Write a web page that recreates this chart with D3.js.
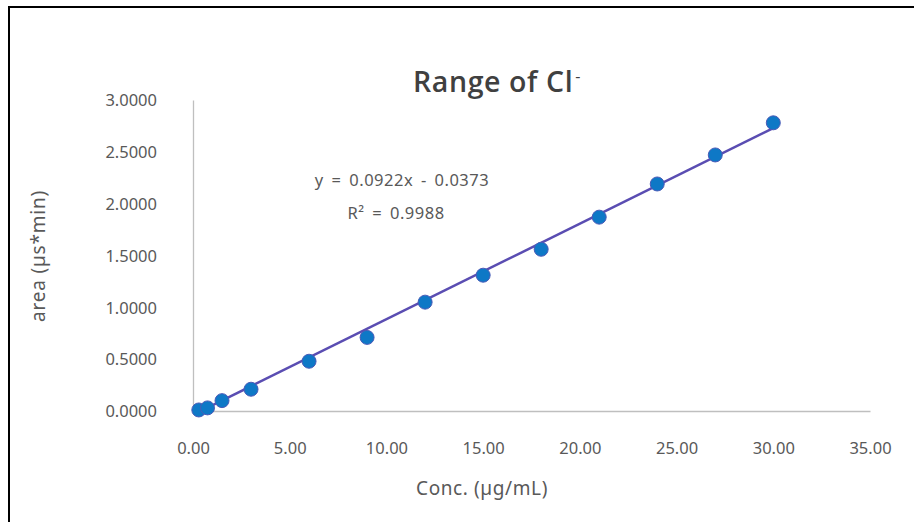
<!DOCTYPE html>
<html>
<head>
<meta charset="utf-8">
<script src="https://cdn.jsdelivr.net/npm/d3@7"></script>
<style>
  html, body { margin: 0; padding: 0; background: #fff; }
  svg { display: block; }
  text { font-family: "Noto Sans", "Open Sans", sans-serif; }
</style>
</head>
<body>
<svg id="chart" width="914" height="522"></svg>
<script>
// Calibration standards for chloride
const concentrations = [0.3, 0.75, 1.5, 3, 6, 9, 12, 15, 18, 21, 24, 27, 30];
const areas = [0.01, 0.03, 0.10, 0.21, 0.48, 0.71, 1.05, 1.31, 1.56, 1.87, 2.19, 2.47, 2.78];
const xTicks = [0, 5, 10, 15, 20, 25, 30, 35];
const yTicks = [0, 0.5, 1.0, 1.5, 2.0, 2.5, 3.0];
const slope = 0.0922;
const intercept = -0.0373;
const rSquared = 0.9988;

const svg = d3.select("#chart");
const W = 914, H = 522;
const margin = { left: 193, right: 44, top: 100, bottom: 111 };

const x = d3.scaleLinear().domain([0, 35]).range([margin.left, W - margin.right]);
const y = d3.scaleLinear().domain([0, 3]).range([H - margin.bottom, margin.top]);

// Outer frame
svg.append("path")
  .attr("d", `M9,${H} V7 H${W}`)
  .attr("fill", "none")
  .attr("stroke", "#000")
  .attr("stroke-width", 2);

// Axes
const xAxis = svg.append("g")
  .attr("transform", `translate(0,${y(0)})`)
  .call(d3.axisBottom(x).tickValues(xTicks).tickSize(0).tickPadding(31).tickFormat(d3.format(".2f")));
const yAxis = svg.append("g")
  .attr("transform", `translate(${x(0)},0)`)
  .call(d3.axisLeft(y).tickValues(yTicks).tickSize(0).tickPadding(36).tickFormat(d3.format(".4f")));

[xAxis, yAxis].forEach(g => {
  g.select(".domain").attr("stroke", "#bfbfbf").attr("stroke-width", 1.3);
  g.selectAll("text")
    .attr("fill", "#595959")
    .style("font-size", "16.5px")
    .style("font-family", "'Noto Sans', sans-serif");
});
yAxis.selectAll("text").attr("dy", "0.35em");

// Trend line from the regression equation
const lineData = [concentrations[0], concentrations[concentrations.length - 1]]
  .map(c => [c, slope * c + intercept]);
svg.append("path")
  .datum(lineData)
  .attr("d", d3.line().x(d => x(d[0])).y(d => y(d[1])))
  .attr("stroke", "#5a4db2")
  .attr("stroke-width", 2.5)
  .attr("fill", "none");

// Data points
svg.append("g").selectAll("circle")
  .data(concentrations.map((c, i) => [c, areas[i]]))
  .join("circle")
  .attr("cx", d => x(d[0]))
  .attr("cy", d => y(d[1]))
  .attr("r", 7)
  .attr("fill", "#0e78c6")
  .attr("stroke", "#4a5bb8")
  .attr("stroke-width", 1);

// Title
const title = svg.append("text")
  .attr("x", 497)
  .attr("y", 92)
  .attr("text-anchor", "middle")
  .attr("fill", "#404040")
  .style("font-family", "'Open Sans', 'Noto Sans', sans-serif")
  .style("font-size", "28.5px")
  .style("font-weight", "600")
  .style("letter-spacing", "0.6px");
title.append("tspan").text("Range of Cl");
title.append("tspan").attr("dy", "-0.6em").attr("dx", "2").style("font-size", "16px").style("font-weight", "400").text("-");

// Axis titles
svg.append("text")
  .attr("x", 482)
  .attr("y", 495)
  .attr("text-anchor", "middle")
  .attr("fill", "#595959")
  .style("font-size", "19px")
  .style("letter-spacing", "0.6px")
  .text("Conc. (µg/mL)");
svg.append("text")
  .attr("transform", "translate(45,256) rotate(-90)")
  .attr("text-anchor", "middle")
  .attr("fill", "#595959")
  .style("font-size", "19px")
  .style("letter-spacing", "0.8px")
  .text("area (µs*min)");

// Regression labels
svg.append("text")
  .attr("x", 402)
  .attr("y", 186)
  .attr("text-anchor", "middle")
  .attr("fill", "#595959")
  .style("font-size", "16.5px")
  .style("letter-spacing", "0.5px")
  .style("word-spacing", "3px")
  .text(`y = ${slope}x - ${Math.abs(intercept)}`);
svg.append("text")
  .attr("x", 396)
  .attr("y", 219)
  .attr("text-anchor", "middle")
  .attr("fill", "#595959")
  .style("font-size", "16.5px")
  .style("letter-spacing", "0.5px")
  .style("word-spacing", "3px")
  .text(`R² = ${rSquared}`);
</script>
</body>
</html>
